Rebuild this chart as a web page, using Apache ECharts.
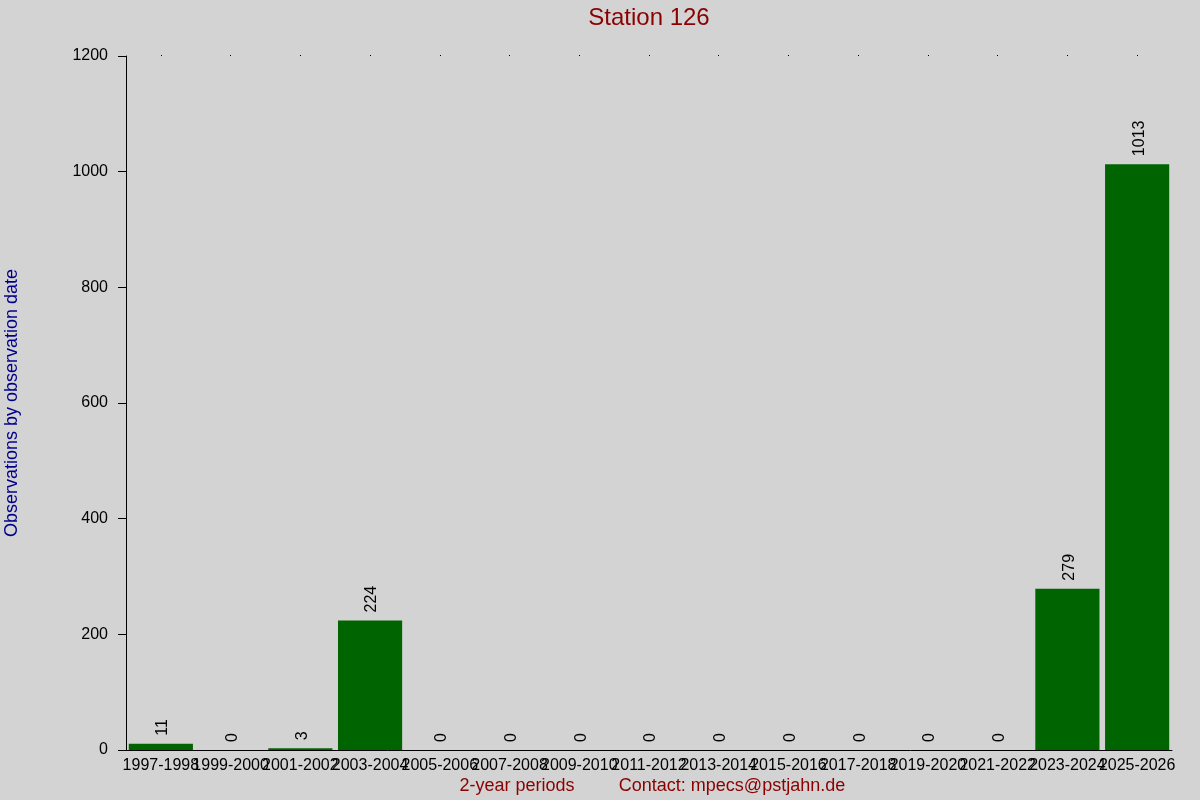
<!DOCTYPE html>
<html>
<head>
<meta charset="utf-8">
<script src="https://cdn.jsdelivr.net/npm/echarts@6/dist/echarts.min.js"></script>
<style>
html, body { margin: 0; padding: 0; background: #d3d3d3; }
#chart1 { width: 1200px; height: 800px; }
</style>
</head>
<body>
<div id="chart1"></div>
<script>
var periods = ['1997-1998', '1999-2000', '2001-2002', '2003-2004', '2005-2006', '2007-2008', '2009-2010',
	'2011-2012', '2013-2014', '2015-2016', '2017-2018', '2019-2020', '2021-2022', '2023-2024', '2025-2026'];
var counts = [11, 0, 3, 224, 0, 0, 0, 0, 0, 0, 0, 0, 0, 279, 1013];
var yTicks = [0, 200, 400, 600, 800, 1000, 1200];

var font = 'Liberation Sans, Arial, sans-serif';
var option = {
	backgroundColor: '#d3d3d3',
	animation: false,
	grid: { left: 126, right: 28, top: 56, bottom: 50 },
	xAxis: [{
		type: 'category',
		data: periods,
		axisLine: { lineStyle: { color: '#000', width: 1 } },
		axisTick: { show: false },
		axisLabel: { color: '#000', fontSize: 16, fontFamily: font, interval: 0, margin: 8 }
	}, {
		type: 'category',
		position: 'top',
		data: periods,
		axisLine: { show: false },
		axisTick: { show: true, alignWithLabel: true, interval: 0, length: 1, lineStyle: { color: '#000' } },
		axisLabel: { show: false }
	}],
	yAxis: {
		type: 'value',
		min: yTicks[0],
		max: yTicks[yTicks.length - 1],
		interval: 200,
		splitLine: { show: false },
		axisLine: { show: true, lineStyle: { color: '#000', width: 1 } },
		axisTick: { show: true, length: 8, lineStyle: { color: '#000' } },
		axisLabel: { color: '#000', fontSize: 16, fontFamily: font, margin: 18, formatter: function (v) { return String(v); } }
	},
	graphic: [{
		type: 'text',
		x: 649, y: 18,
		style: { text: 'Station 126', fill: '#8b0000', font: '24px ' + font, align: 'center', verticalAlign: 'middle' }
	}, {
		type: 'text',
		rotation: Math.PI / 2,
		x: 12, y: 403,
		style: {
			text: 'Observations by observation date',
			fill: '#00008b',
			font: '18px ' + font,
			align: 'center',
			verticalAlign: 'middle'
		}
	}, {
		type: 'text',
		x: 517, y: 786,
		style: { text: '2-year periods', fill: '#8b0000', font: '18px ' + font, align: 'center', verticalAlign: 'middle' }
	}, {
		type: 'text',
		x: 732, y: 786,
		style: { text: 'Contact: mpecs@pstjahn.de', fill: '#8b0000', font: '18px ' + font, align: 'center', verticalAlign: 'middle' }
	}],
	series: [{
		type: 'bar',
		data: counts,
		barCategoryGap: '8%',
		itemStyle: { color: '#006400' },
		label: {
			show: true,
			position: 'top',
			rotate: 90,
			align: 'left',
			verticalAlign: 'middle',
			distance: 8,
			offset: [0, 2],
			color: '#000',
			fontSize: 16,
			fontFamily: font
		}
	}]
};
var chart1 = echarts.init(document.getElementById('chart1'));
chart1.setOption(option);
</script>
</body>
</html>
